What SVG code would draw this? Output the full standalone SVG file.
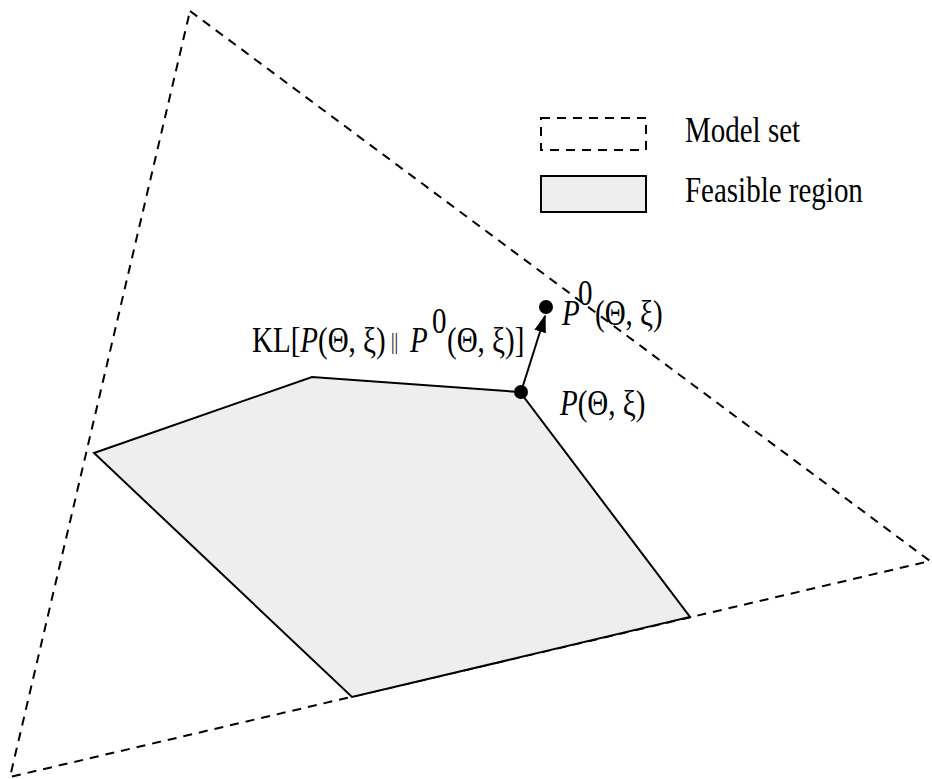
<svg xmlns="http://www.w3.org/2000/svg" width="932" height="779" viewBox="0 0 932 779">
<defs>
<marker id="arr" viewBox="0 0 10 10" refX="9" refY="5" markerWidth="18" markerHeight="12" markerUnits="userSpaceOnUse" orient="auto" preserveAspectRatio="none"><path d="M0,0 L10,5 L0,10 z" fill="#000"/></marker>
<style>
.dash{fill:none;stroke:#000;stroke-width:2;stroke-dasharray:9,7}
.feas{fill:#eeeeee;stroke:#000;stroke-width:2}
.t{font-family:"Liberation Serif","Times New Roman",serif;font-size:29px;fill:#000}
.i{font-style:italic}
.bars{font-size:18px}
</style>
</defs>
<rect width="932" height="779" fill="#fff"/>
<g id="model-set"><polygon class="dash" points="190,11 930,561 10,777"/></g>
<g id="feasible-region"><polygon class="feas" points="94,453 312,377 520,392 690,617 352,697"/></g>
<g id="legend">
<rect class="dash" x="541" y="118" width="105" height="32"/>
<text class="t" transform="translate(685,142) scale(1,1.27)">Model set</text>
<rect class="feas" x="541" y="176" width="105" height="36"/>
<text class="t" transform="translate(685,202) scale(1,1.27)">Feasible region</text>
</g>
<g id="connectors">
<line x1="521" y1="392" x2="545" y2="316" stroke="#000" stroke-width="2" marker-end="url(#arr)"/>
</g>
<g id="p0-point"><circle cx="546" cy="307" r="7" fill="#000"/>
<text class="t" transform="translate(562,325) scale(1,1.27)"><tspan class="i">P</tspan><tspan x="16" y="-16">0</tspan><tspan x="33" y="0">(Θ, ξ)</tspan></text></g>
<g id="p-point"><circle cx="521" cy="392" r="7" fill="#000"/>
<text class="t" transform="translate(560,415) scale(1,1.27)"><tspan class="i">P</tspan>(Θ, ξ)</text></g>
<g id="kl-label"><text class="t" transform="translate(252,352) scale(1,1.27)">KL[<tspan class="i">P</tspan>(Θ, ξ)<tspan class="bars" x="139" y="-2">||</tspan><tspan class="i" x="158" y="0">P</tspan><tspan x="180" y="-15">0</tspan><tspan x="195" y="0">(Θ, ξ)]</tspan></text></g>
</svg>
